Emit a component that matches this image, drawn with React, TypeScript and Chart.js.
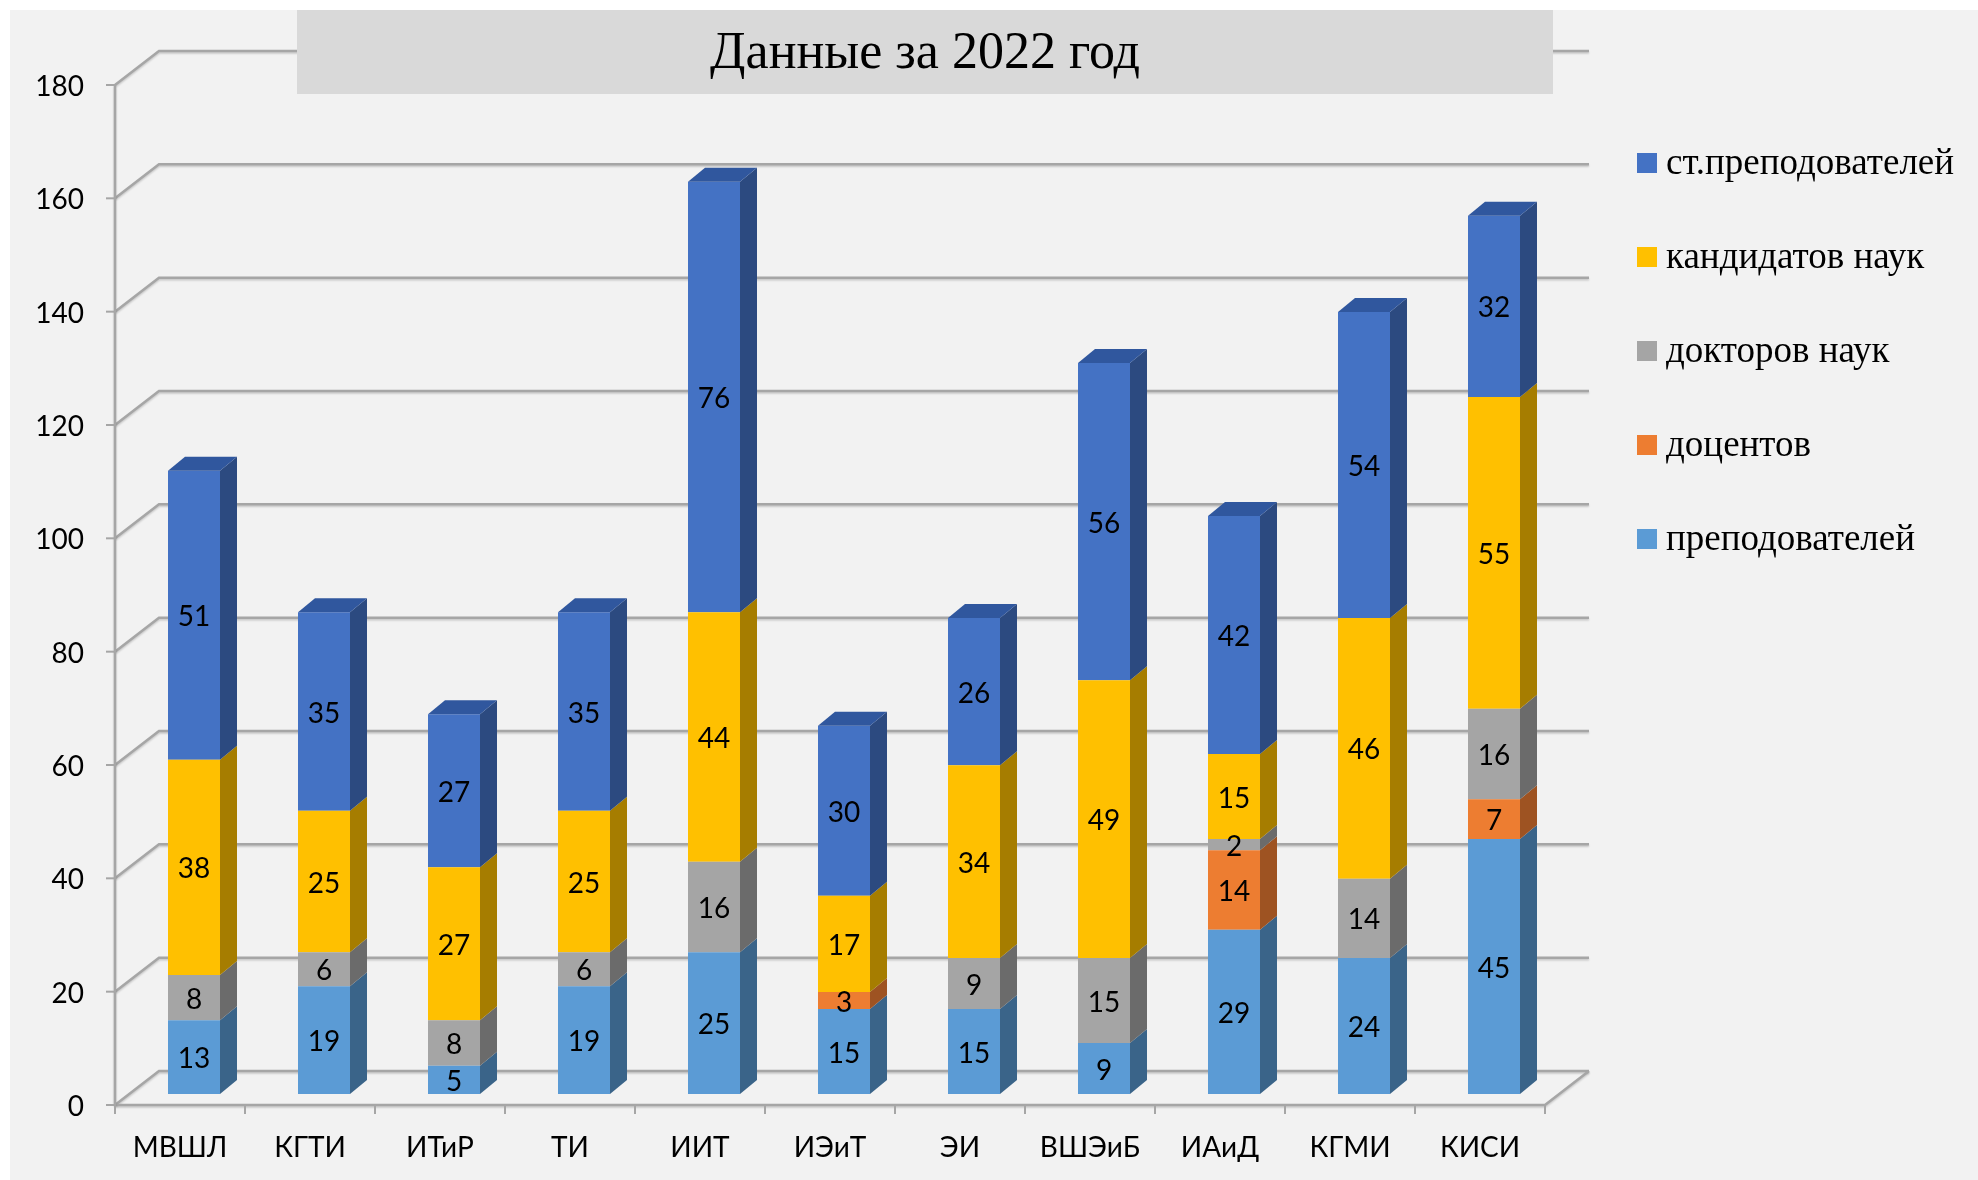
import React, { useEffect, useRef } from "react";
import { Chart, registerables } from "chart.js";

Chart.register(...registerables);

// ---- data ----
const categories = ["МВШЛ", "КГТИ", "ИТиР", "ТИ", "ИИТ", "ИЭиТ", "ЭИ", "ВШЭиБ", "ИАиД", "КГМИ", "КИСИ"];
const teachers = [13, 19, 5, 19, 25, 15, 15, 9, 29, 24, 45]; // преподователей
const docents = [0, 0, 0, 0, 0, 3, 0, 0, 14, 0, 7]; // доцентов
const doctors = [8, 6, 8, 6, 16, 0, 9, 15, 2, 14, 16]; // докторов наук
const candidates = [38, 25, 27, 25, 44, 17, 34, 49, 15, 46, 55]; // кандидатов наук
const seniors = [51, 35, 27, 35, 76, 30, 26, 56, 42, 54, 32]; // ст.преподователей
const yTicks = [0, 20, 40, 60, 80, 100, 120, 140, 160, 180];
const titleText = "Данные за 2022 год";
const seriesNames = ["преподователей", "доцентов", "докторов наук", "кандидатов наук", "ст.преподователей"];
const seriesValues = [teachers, docents, doctors, candidates, seniors];

// ---- styles ----
const frontColors = ["#5B9BD5", "#ED7D31", "#A5A5A5", "#FFC000", "#4472C4"];
const sideColors = ["#3A6489", "#9E5322", "#6B6B6B", "#A67D00", "#2C4A80"];
const topColors = ["#4A7FB0", "#C4682A", "#8C8C8C", "#D9A300", "#30579E"];

const FRONT = { dx: -14, dy: 11 }; // bar plane -> front axis plane
const WALL = { dx: 44, dy: -34 }; // front plane -> back wall
const DEPTH = { dx: 17, dy: -14 }; // bar depth
const NUM_FONT = "28px Lato";
const SERIF = '"Liberation Serif", "Times New Roman", serif';
const GRID = "#A6A6A6";

function line(ctx: CanvasRenderingContext2D, x1: number, y1: number, x2: number, y2: number) {
  ctx.beginPath();
  ctx.moveTo(x1, y1);
  ctx.lineTo(x2, y2);
  ctx.stroke();
}

const threeD = {
  id: "threeD",
  beforeDraw(chart: any) {
    const ctx = chart.ctx as CanvasRenderingContext2D;
    ctx.save();
    ctx.fillStyle = "#FFFFFF";
    ctx.fillRect(0, 0, chart.width, chart.height);
    ctx.fillStyle = "#F2F2F2";
    ctx.fillRect(10, 10, chart.width - 10, chart.height - 10);
    ctx.restore();
  },
  beforeDatasetsDraw(chart: any) {
    const ctx = chart.ctx as CanvasRenderingContext2D;
    const area = chart.chartArea;
    const ys = chart.scales.y;
    const xs = chart.scales.x;
    const x0 = area.left + FRONT.dx;
    const x1 = area.right + FRONT.dx;
    const yf = (v: number) => ys.getPixelForValue(v) + FRONT.dy;
    const y0 = yf(0);
    ctx.save();
    ctx.lineCap = "butt";
    // walls with soft shadow
    ctx.strokeStyle = GRID;
    ctx.lineWidth = 2.5;
    ctx.shadowColor = "rgba(0,0,0,0.18)";
    ctx.shadowBlur = 2;
    ctx.shadowOffsetY = 1.5;
    yTicks.forEach((v) => {
      const y = yf(v);
      const yb = y + WALL.dy;
      ctx.beginPath();
      ctx.moveTo(x0, y);
      ctx.lineTo(x0 + WALL.dx, yb);
      ctx.lineTo(x1 + WALL.dx, yb);
      ctx.stroke();
    });
    // floor
    ctx.beginPath();
    ctx.moveTo(x0, y0);
    ctx.lineTo(x1, y0);
    ctx.lineTo(x1 + WALL.dx, y0 + WALL.dy);
    ctx.stroke();
    // axis line
    line(ctx, x0, yf(yTicks[yTicks.length - 1]), x0, y0);
    ctx.shadowColor = "transparent";
    ctx.lineWidth = 2;
    // y ticks
    yTicks.forEach((v) => line(ctx, x0 - 9, yf(v), x0, yf(v)));
    // x ticks
    const catW = (x1 - x0) / categories.length;
    for (let k = 0; k <= categories.length; k++) {
      const x = x0 + k * catW;
      line(ctx, x, y0, x, y0 + 9);
    }
    // y labels
    ctx.fillStyle = "#000";
    ctx.font = NUM_FONT;
    ctx.textAlign = "right";
    ctx.textBaseline = "middle";
    yTicks.forEach((v) => ctx.fillText(String(v), x0 - 31, yf(v) + 2));
    // x labels
    ctx.textAlign = "center";
    categories.forEach((c, i) => {
      ctx.fillText(c, xs.getPixelForValue(i) + FRONT.dx, y0 + 43);
    });
    // title box
    ctx.fillStyle = "#D9D9D9";
    ctx.fillRect(297, 10, 1256, 84);
    ctx.fillStyle = "#000";
    ctx.font = `52px ${SERIF}`;
    ctx.textAlign = "center";
    ctx.textBaseline = "alphabetic";
    ctx.fillText(titleText, 925, 68);
    // legend
    ctx.font = `37px ${SERIF}`;
    ctx.textAlign = "left";
    const ds = chart.data.datasets;
    for (let n = 0; n < ds.length; n++) {
      const i = ds.length - 1 - n;
      const top = 153 + n * 94;
      ctx.fillStyle = ds[i].backgroundColor;
      ctx.fillRect(1637, top, 20, 20);
      ctx.fillStyle = "#000";
      ctx.fillText(ds[i].label, 1666, top + 21);
    }
    ctx.restore();
  },
  afterDatasetsDraw(chart: any) {
    const ctx = chart.ctx as CanvasRenderingContext2D;
    const n = chart.data.datasets.length;
    ctx.save();
    for (let i = 0; i < n; i++) {
      const meta = chart.getDatasetMeta(i);
      meta.data.forEach((el: any, j: number) => {
        const v = chart.data.datasets[i].data[j];
        if (!v) return;
        const left = el.x - el.width / 2;
        const right = el.x + el.width / 2;
        const top = Math.min(el.y, el.base);
        const bottom = Math.max(el.y, el.base);
        // side face
        ctx.fillStyle = sideColors[i];
        ctx.beginPath();
        ctx.moveTo(right, top);
        ctx.lineTo(right + DEPTH.dx, top + DEPTH.dy);
        ctx.lineTo(right + DEPTH.dx, bottom + DEPTH.dy);
        ctx.lineTo(right, bottom);
        ctx.closePath();
        ctx.fill();
        // top face if topmost nonzero
        let isTop = true;
        for (let k = i + 1; k < n; k++) if (chart.data.datasets[k].data[j]) isTop = false;
        if (isTop) {
          ctx.fillStyle = topColors[i];
          ctx.beginPath();
          ctx.moveTo(left, top);
          ctx.lineTo(left + DEPTH.dx, top + DEPTH.dy);
          ctx.lineTo(right + DEPTH.dx, top + DEPTH.dy);
          ctx.lineTo(right, top);
          ctx.closePath();
          ctx.fill();
        }
      });
    }
    // data labels
    ctx.fillStyle = "#000";
    ctx.font = NUM_FONT;
    ctx.textAlign = "center";
    ctx.textBaseline = "middle";
    for (let i = 0; i < n; i++) {
      const meta = chart.getDatasetMeta(i);
      meta.data.forEach((el: any, j: number) => {
        const v = chart.data.datasets[i].data[j];
        if (!v) return;
        ctx.fillText(String(v), el.x, (el.y + el.base) / 2 + 2);
      });
    }
    ctx.restore();
  },
};

export default function App() {
  const ref = useRef<HTMLCanvasElement | null>(null);
  useEffect(() => {
    if (!ref.current) return;
    const chart = new Chart(ref.current, {
      type: "bar",
      data: {
        labels: categories,
        datasets: seriesNames.map((name, i) => ({
          label: name,
          data: seriesValues[i],
          backgroundColor: frontColors[i],
          borderWidth: 0,
          barPercentage: 0.4,
          categoryPercentage: 1,
        })),
      },
      options: {
        responsive: false,
        animation: false,
        devicePixelRatio: 1,
        layout: { padding: { left: 129, right: 419, top: 74, bottom: 86 } },
        plugins: { legend: { display: false }, title: { display: false }, tooltip: { enabled: false } },
        scales: {
          x: { display: false, stacked: true },
          y: { display: false, stacked: true, min: 0, max: 180 },
        },
      },
      plugins: [threeD],
    });
    let alive = true;
    if ((document as any).fonts) {
      Promise.all([
        (document as any).fonts.load(NUM_FONT),
        (document as any).fonts.load(`37px ${SERIF}`),
      ]).then(() => {
        if (alive) chart.update();
      }).catch(() => {});
    }
    return () => {
      alive = false;
      chart.destroy();
    };
  }, []);
  return (
    <div style={{ position: "fixed", left: 0, top: 0, width: 1978, height: 1180 }}>
      <canvas ref={ref} width={1978} height={1180} style={{ display: "block", width: 1978, height: 1180 }} />
    </div>
  );
}
